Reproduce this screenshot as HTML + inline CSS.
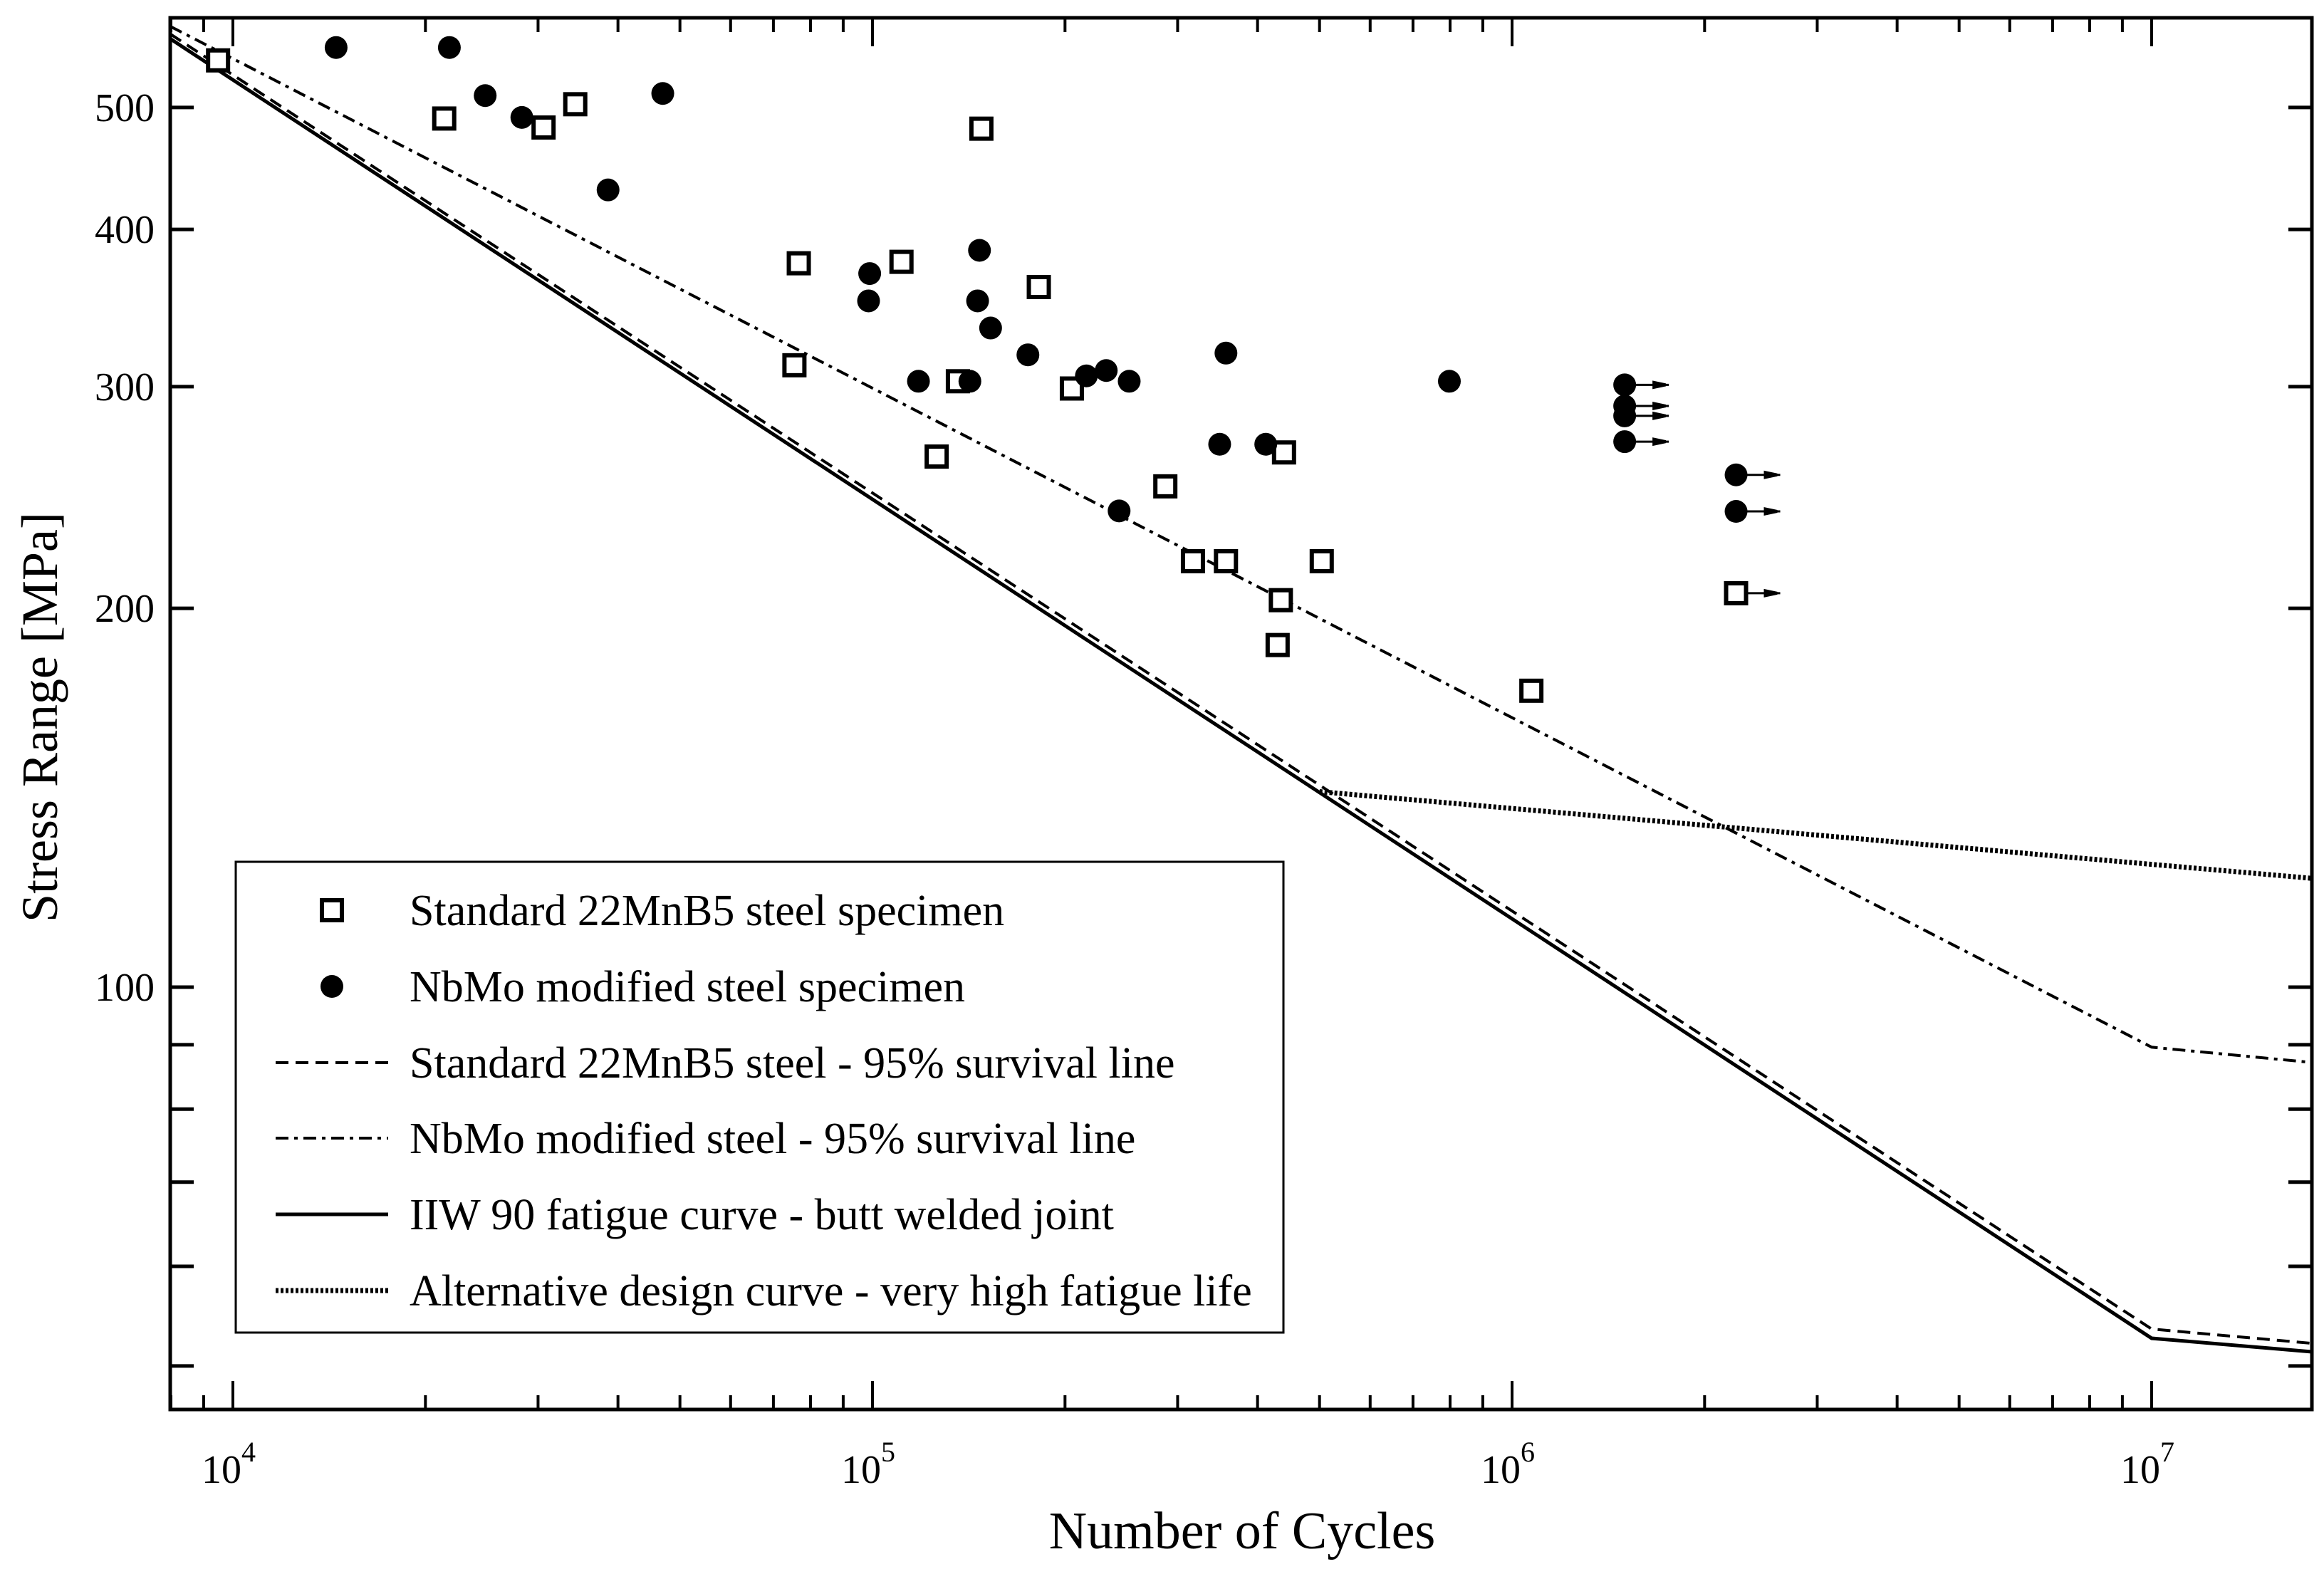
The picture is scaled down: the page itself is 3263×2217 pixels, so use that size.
<!DOCTYPE html>
<html><head><meta charset="utf-8"><style>
html,body{margin:0;padding:0;background:#fff;}
svg{display:block;font-family:"Liberation Serif",serif;}
</style></head><body>
<svg id="chart" width="3263" height="2217" viewBox="0 0 3263 2217" xmlns="http://www.w3.org/2000/svg">
<rect x="0" y="0" width="3263" height="2217" fill="#fff"/>
<g id="marks"></g>
<g id="axes"></g>
<text x="1744" y="2174" font-size="74" text-anchor="middle">Number of Cycles</text>
<text x="0" y="0" font-size="72" text-anchor="middle" transform="translate(80,1007) rotate(-90)">Stress Range [MPa]</text>
<g id="legend"></g>
</svg>
<script>
const stdN=[9480,21400,30600,34300,148000,76700,111000,182000,75500,136000,205000,126000,287000,440000,317000,357000,504000,435000,430000,1072000];
const stdS=[545,490,482,503,481,376,377,360,312,303,299,264,250,266,218,218,218,203,187,172];
const stdRunN=[2240000];
const stdRunS=[205.6];
const nbN=[14500,21800,24800,28300,38600,47000,99000,98600,147000,146000,153000,175000,118000,142000,216000,232000,252000,357000,349000,412000,243000,798000];
const nbS=[558,558,511,491,430,513,369,351,385,351,334,318,303,303,306,309,303,319,270,270,239,303];
const nbRunN=[1500000,1500000,1500000,1500000,2240000,2240000];
const nbRunS=[301,289.6,284.4,271.3,255.3,238.8];
const iiwN=[7980,1e7,1.79e7];
const iiwS=[567,52.6,51.3];
const std95N=[7980,1e7,1.79e7];
const std95S=[572,53.5,52.1];
const nb95N=[7980,1e7,1.79e7];
const nb95S=[580,89.6,87.1];
const altN=[5e5,1.79e7];
const altS=[143,122];
const yTickVals=[50,60,70,80,90,100,200,300,400,500];
const yTickLabels=["100","200","300","400","500"];
const xDecades=[4,5,6,7];

const NS="http://www.w3.org/2000/svg";
const L=239,R=3246,T=25,B=1979;
function xs(n){return 327+(Math.log10(n)-4)*898;}
function ys(s){return 1386-(Math.log10(s)-2)*1767;}
function mk(tag,attrs,parent){const e=document.createElementNS(NS,tag);for(const k in attrs)e.setAttribute(k,attrs[k]);parent.appendChild(e);return e;}
const marks=document.getElementById('marks'),axes=document.getElementById('axes'),leg=document.getElementById('legend');
const cp=mk('clipPath',{id:'clip'},marks);
mk('rect',{x:L,y:T,width:R-L,height:B-T},cp);
const g=mk('g',{'clip-path':'url(#clip)'},marks);

function line(Ns,Ss,style,name){
  const p=Ns.map((n,i)=>xs(n).toFixed(1)+','+ys(Ss[i]).toFixed(1)).join(' ');
  const e=mk('polyline',Object.assign({points:p,fill:'none',stroke:'#000'},style),g);
  
  
}
line(iiwN,iiwS,{'stroke-width':5},'iiw90-curve');
line(std95N,std95S,{'stroke-width':4,'stroke-dasharray':'18 10'},'std-95-line');
line(nb95N,nb95S,{'stroke-width':4,'stroke-dasharray':'18 8 5 8'},'nbmo-95-line');
line(altN,altS,{'stroke-width':7,'stroke-dasharray':'4 3'},'alt-design-curve');

function square(x,y,parent){return mk('rect',{x:x-14,y:y-14,width:28,height:28,fill:'#fff',stroke:'#000','stroke-width':6},parent);}
function circle(x,y,parent){return mk('circle',{cx:x,cy:y,r:16,fill:'#000'},parent);}
function arrow(x,y){
  const a=mk('g',{},g);
  
  
  mk('line',{x1:x,y1:y,x2:x+62,y2:y,stroke:'#000','stroke-width':3},a);
  mk('polygon',{points:`${x+39},${y-6} ${x+58},${y-2} ${x+58},${y+2} ${x+39},${y+6}`,fill:'#000'},a);
}
nbRunN.forEach((n,i)=>{arrow(xs(n),ys(nbRunS[i]));});
stdRunN.forEach((n,i)=>{arrow(xs(n),ys(stdRunS[i]));});
stdN.forEach((n,i)=>{const e=square(xs(n),ys(stdS[i]),g);
  
  });
stdRunN.forEach((n,i)=>{const e=square(xs(n),ys(stdRunS[i]),g);
  
  });
nbN.forEach((n,i)=>{const e=circle(xs(n),ys(nbS[i]),g);
  
  });
nbRunN.forEach((n,i)=>{const e=circle(xs(n),ys(nbRunS[i]),g);
  
  });

const fr=mk('rect',{x:L,y:T,width:R-L,height:B-T,fill:'none',stroke:'#000','stroke-width':5},axes);


yTickVals.forEach(v=>{const y=ys(v);
  const t=mk('path',{d:`M${L},${y}H${L+33}M${R},${y}H${R-33}`,stroke:'#000','stroke-width':5},axes);
  
  });
yTickLabels.forEach(s=>{const t=mk('text',{x:L-22,y:ys(+s)+19,'font-size':56,'text-anchor':'end'},axes);t.textContent=s;
  
  });
for(let d=3;d<=7;d++){for(let m=1;m<10;m++){const n=m*Math.pow(10,d);const x=xs(n);if(x<L||x>R)continue;
  const len=m===1?40:20;
  const t=mk('path',{d:`M${x},${B}V${B-len}M${x},${T}V${T+len}`,stroke:'#000','stroke-width':4},axes);
  
  }}
xDecades.forEach(d=>{const x=xs(Math.pow(10,d));
  const t=mk('text',{x:x-6,y:2082,'font-size':56,'text-anchor':'middle'},axes);
  
  
  t.appendChild(document.createTextNode('10'));
  const s=mk('tspan',{dy:-30,'font-size':40},t);s.textContent=String(d);});

const lb=mk('rect',{x:331,y:1210,width:1471,height:661,fill:'#fff',stroke:'#000','stroke-width':3},leg);


const legY=[1278,1385,1492,1598,1705,1812];
const legText=["Standard 22MnB5 steel specimen","NbMo modified steel specimen","Standard 22MnB5 steel - 95% survival line","NbMo modified steel - 95% survival line","IIW 90 fatigue curve - butt welded joint","Alternative design curve - very high fatigue life"];
const legStyles=[null,null,{'stroke-width':4,'stroke-dasharray':'18 10'},{'stroke-width':4,'stroke-dasharray':'18 8 5 8'},{'stroke-width':5},{'stroke-width':7,'stroke-dasharray':'4 3'}];
legText.forEach((txt,i)=>{const y=legY[i];
  const e=mk('g',{},leg);
  
  
  if(i===0)square(466,y,e);else if(i===1)circle(466,y,e);
  else mk('line',Object.assign({x1:387,y1:y,x2:545,y2:y,stroke:'#000'},legStyles[i]),e);
  const t=mk('text',{x:575,y:y+21,'font-size':62},e);t.textContent=txt;});
</script>
</body></html>
